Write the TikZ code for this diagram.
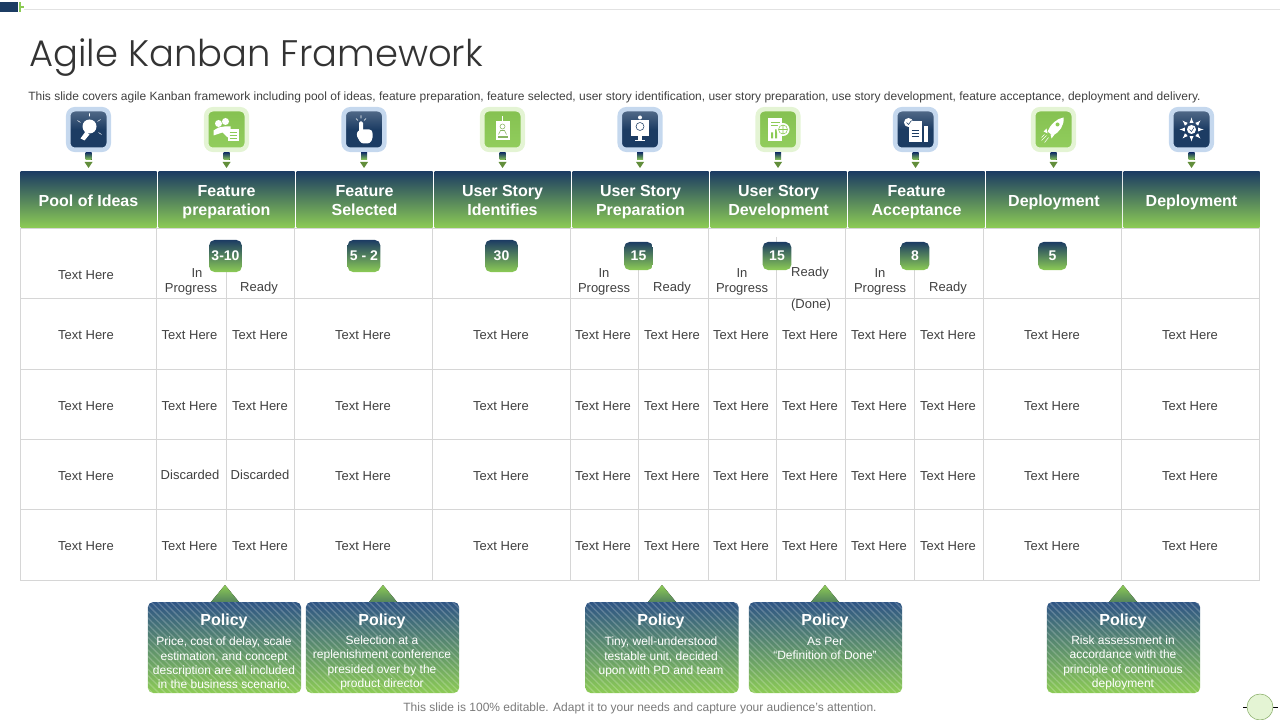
\documentclass[tikz,border=0pt]{standalone}
\usepackage{fontspec}
\setmainfont{Liberation Sans}
\newfontfamily\titlefont{Poppins}[UprightFont=* Light]
\usetikzlibrary{patterns.meta}
\definecolor{navy}{HTML}{1C3C63}
\definecolor{leaf}{HTML}{8CCB55}
\definecolor{policyblue}{HTML}{2F5585}
\definecolor{bluehalo}{HTML}{C5D8EE}
\definecolor{greenhalo}{HTML}{E4F4D4}
\definecolor{gridgray}{HTML}{D6D6D6}
\definecolor{ink}{HTML}{404040}
\newcommand{\headtop}{\rule{0pt}{14.5pt}}
\tikzset{
    head/.style={minimum width=102pt, minimum height=42pt, inner sep=0pt, top color=navy, bottom color=leaf, text=white, align=center, font=\fontsize{12}{14.25}\selectfont\bfseries},
    badge/.style={rounded corners=4pt, inner sep=0pt, top color=navy, bottom color=leaf, text=white, font=\fontsize{10.5}{12}\selectfont\bfseries},
    bigbadge/.style={badge, minimum width=24.5pt, minimum height=24pt},
    smallbadge/.style={badge, minimum width=21.5pt, minimum height=21pt},
    cell/.style={inner sep=0pt, yshift=-0.75pt, text=ink, align=center, font=\fontsize{9.75}{12}\selectfont},
    iconblue/.style={minimum size=30.4pt, inner sep=0pt, rounded corners=5pt, draw=bluehalo, line width=3.4pt, top color=navy!75!white, bottom color=navy, middle color=navy},
    icongreen/.style={minimum size=30.4pt, inner sep=0pt, rounded corners=5pt, draw=greenhalo, line width=3.4pt, top color=leaf!95!black, bottom color=leaf!95!white},
    policybox/.style={minimum width=115pt, minimum height=68.25pt, inner sep=0pt, rounded corners=4pt, top color=policyblue, bottom color=leaf, postaction={pattern={Lines[angle=-45, distance=3.4pt, line width=1pt]}, pattern color=white, opacity=0.2}},
    policytip/.style={top color=leaf, bottom color=navy!50!leaf},
    policyhead/.style={inner sep=0pt, text=white, font=\fontsize{12}{14}\selectfont\bfseries},
    policytext/.style={inner sep=0pt, text=white, align=center, font=\fontsize{9}{10.7}\selectfont},
    marker/.pic={
        \fill[top color=navy, bottom color=leaf] (-3,-15) rectangle (3,-8);
        \fill[leaf!70!black] (-4,-6) -- (4,-6) -- (0,0) -- cycle;
    },
}

\begin{document}
\begin{tikzpicture}[x=0.75pt, y=-0.75pt]
    \useasboundingbox (0,0) rectangle (1280,720);
    \draw[gridgray!70] (24,9.5) -- (1280,9.5);
    \fill[navy] (0,2) rectangle (18,12);
    \fill[leaf] (19,2) rectangle (21,12);
    \fill[leaf] (21,6.5) rectangle (24,8);

    \node[anchor=west, inner sep=0pt, text=ink!80!black, font=\fontsize{27.7}{33}\selectfont\titlefont] (title) at (29,58) {Agile Kanban Framework};
    \node[anchor=west, inner sep=0pt, text=ink, font=\fontsize{9}{11}\selectfont] (subtitle) at (28,97) {This slide covers agile Kanban framework including pool of ideas, feature preparation, feature selected, user story identification, user story preparation, use story development, feature acceptance, deployment and delivery.};

    \node[iconblue] (icon1) at (88.5,129.5) {};
    \node[icongreen] (icon2) at (226.5,129.5) {};
    \node[iconblue] (icon3) at (364,129.5) {};
    \node[icongreen] (icon4) at (502.5,129.5) {};
    \node[iconblue] (icon5) at (640,129.5) {};
    \node[icongreen] (icon6) at (778,129.5) {};
    \node[iconblue] (icon7) at (915.5,129.5) {};
    \node[icongreen] (icon8) at (1053.5,129.5) {};
    \node[iconblue] (icon9) at (1191.5,129.5) {};

    \begin{scope}[shift={(88.5,129.5)}]
        \fill[white] (1,-3) circle (7);
        \fill[white] (-8,9) -- (-3,2) -- (1,5) -- (-4,11) -- cycle;
        \draw[white] (-8,-7) -- (-11,-9) (1,-13) -- (1,-16) (9,-8) -- (12,-10) (10,3) -- (13,5);
    \end{scope}
    \begin{scope}[shift={(226.5,129.5)}]
        \fill[white] (-8,-6) circle (3.5) (-1,-8) circle (3.5);
        \fill[white] (-13,6) -- (-13,1) -- (-8,-2) -- (-2,-3) -- (4,-3) -- (4,1) -- (1,8) -- (-4,3) -- cycle;
        \fill[white] (1,0) rectangle (12,12);
        \draw[leaf] (3,3) -- (10,3) (3,6) -- (10,6) (3,9) -- (10,9);
    \end{scope}
    \begin{scope}[shift={(364,129.5)}]
        \fill[white, rounded corners=1pt] (-5,-8) rectangle (-1,4);
        \fill[white, rounded corners=2pt] (-5,0) -- (8,0) -- (9,8) -- (6,14) -- (-3,14) -- (-8,5) -- cycle;
        \draw[white] (-8,-11) -- (-6,-9) (-3,-14) -- (-3,-11) (2,-11) -- (0,-9);
    \end{scope}
    \begin{scope}[shift={(502.5,129.5)}]
        \fill[white] (-7,-8) rectangle (7,11);
        \draw[white] (0,-8) -- (0,-13);
        \draw[leaf!70!gray] (0,-3) circle (2.5) (-4,5) -- (-2,1) -- (2,1) -- (4,5);
        \fill[leaf!70!gray] (-5,7) rectangle (5,9);
    \end{scope}
    \begin{scope}[shift={(640,129.5)}]
        \fill[white] (-9,-9) rectangle (9,7);
        \fill[white] (-2,7) rectangle (2,11);
        \fill[white] (-5,11) rectangle (5,12);
        \draw[navy] (0,-3) circle (4);
        \fill[white] (0,-12) circle (2);
    \end{scope}
    \begin{scope}[shift={(778,129.5)}]
        \fill[white] (-10,-11) rectangle (4,12);
        \draw[leaf] (-7,-7) -- (2,-7) (-7,-4) -- (1,-4);
        \fill[leaf] (-7,3) rectangle (-5,9) (-3,0) rectangle (-1,9);
        \fill[white] (5,0) circle (6.5);
        \draw[leaf] (5,0) circle (4.5) (5,-4.5) -- (5,4.5) (0.5,0) -- (9.5,0);
    \end{scope}
    \begin{scope}[shift={(915.5,129.5)}]
        \fill[white] (-7,-8) rectangle (6,13);
        \fill[white] (8,-3) rectangle (12,13);
        \draw[navy] (-4,1) -- (3,1) (-4,4) -- (3,4) (-4,7) -- (3,7);
        \fill[white] (-7,-7) circle (4.5);
        \draw[navy] (-9,-7) -- (-7,-5) -- (-4,-9);
    \end{scope}
    \begin{scope}[shift={(1053.5,129.5)}]
        \fill[white] (10,-12) .. controls (3,-11) and (-3,-5) .. (-6,2) -- (-1,6) .. controls (6,3) and (11,-4) .. (10,-12) -- cycle;
        \fill[white] (-7,-1) -- (-10,2) -- (-6,4) -- cycle (1,5) -- (-2,9) -- (-3,5) -- cycle;
        \draw[white] (-7,6) -- (-12,11) (-5,8) -- (-9,13) (-9,5) -- (-12,8);
        \fill[leaf] (4,-5) circle (2);
    \end{scope}
    \begin{scope}[shift={(1191.5,129.5)}]
        \fill[white] (0,0) circle (4.5);
        \draw[navy] (-2,0) -- (0,2) -- (2.5,-2);
        \draw[white, -latex] (7,0) -- (12,0);
        \draw[white, -latex] (-7,0) -- (-12,0);
        \draw[white, -latex] (0,7) -- (0,12);
        \draw[white, -latex] (0,-7) -- (0,-12);
        \draw[white, -latex] (5,5) -- (9,9);
        \draw[white, -latex] (-5,5) -- (-9,9);
        \draw[white, -latex] (5,-5) -- (9,-9);
        \draw[white, -latex] (-5,-5) -- (-9,-9);
    \end{scope}

    \pic at (88.5,168) {marker};
    \pic at (226.5,168) {marker};
    \pic at (364,168) {marker};
    \pic at (502.5,168) {marker};
    \pic at (640,168) {marker};
    \pic at (778,168) {marker};
    \pic at (915.5,168) {marker};
    \pic at (1053.5,168) {marker};
    \pic at (1191.5,168) {marker};

    \draw[gridgray] (20,228) rectangle (1259.5,580);
    \draw[gridgray] (20,298.5) -- (1259.5,298.5);
    \draw[gridgray] (20,369.5) -- (1259.5,369.5);
    \draw[gridgray] (20,439.5) -- (1259.5,439.5);
    \draw[gridgray] (20,509.5) -- (1259.5,509.5);
    \draw[gridgray] (156.5,228) -- (156.5,580);
    \draw[gridgray] (294.5,228) -- (294.5,580);
    \draw[gridgray] (432.5,228) -- (432.5,580);
    \draw[gridgray] (570.5,228) -- (570.5,580);
    \draw[gridgray] (708.5,228) -- (708.5,580);
    \draw[gridgray] (845.5,228) -- (845.5,580);
    \draw[gridgray] (983.5,228) -- (983.5,580);
    \draw[gridgray] (1121.5,228) -- (1121.5,580);
    \draw[gridgray] (226.5,270) -- (226.5,580);
    \draw[gridgray] (638.5,270) -- (638.5,580);
    \draw[gridgray] (776.5,237) -- (776.5,580);
    \draw[gridgray] (914.5,270) -- (914.5,580);

    \node[head] (head1) at (88.5,199.5) {\headtop Pool of Ideas\strut};
    \node[head] (head2) at (226.5,199.5) {\headtop Feature\\preparation\strut};
    \node[head] (head3) at (364.5,199.5) {\headtop Feature\\Selected\strut};
    \node[head] (head4) at (502.5,199.5) {\headtop User Story\\Identifies\strut};
    \node[head] (head5) at (640.5,199.5) {\headtop User Story\\Preparation\strut};
    \node[head] (head6) at (778.5,199.5) {\headtop User Story\\Development\strut};
    \node[head] (head7) at (916.5,199.5) {\headtop Feature\\Acceptance\strut};
    \node[head] (head8) at (1054,199.5) {\headtop Deployment\strut};
    \node[head] (head9) at (1191.5,199.5) {\headtop Deployment\strut};

    \node[bigbadge] (badge2) at (225.5,256) {3-10};
    \node[bigbadge] (badge3) at (364,256) {5 - 2};
    \node[bigbadge] (badge4) at (501.5,256) {30};
    \node[smallbadge] (badge5) at (638.5,256) {15};
    \node[smallbadge] (badge6) at (777,256) {15};
    \node[smallbadge] (badge7) at (915,256) {8};
    \node[smallbadge] (badge8) at (1052.5,256) {5};

    \node[cell] (c11) at (86,274) {Text Here};
    \node[cell] (c21) at (197,272) {In};
    \node[cell] (c22) at (191,288) {Progress};
    \node[cell] (c23) at (259,287) {Ready};
    \node[cell] (c51) at (604,272) {In};
    \node[cell] (c52) at (604,288) {Progress};
    \node[cell] (c53) at (672,287) {Ready};
    \node[cell] (c61) at (742,272) {In};
    \node[cell] (c62) at (742,288) {Progress};
    \node[cell] (c63) at (810,272) {Ready};
    \node[cell] (c64) at (811,304) {(Done)};
    \node[cell] (c71) at (880,272) {In};
    \node[cell] (c72) at (880,288) {Progress};
    \node[cell] (c73) at (948,287) {Ready};

    \node[cell] (a1) at (86,334) {Text Here};
    \node[cell] (a2) at (189.5,334) {Text Here};
    \node[cell] (a3) at (260,334) {Text Here};
    \node[cell] (a4) at (363,334) {Text Here};
    \node[cell] (a5) at (501,334) {Text Here};
    \node[cell] (a6) at (603,334) {Text Here};
    \node[cell] (a7) at (672,334) {Text Here};
    \node[cell] (a8) at (741,334) {Text Here};
    \node[cell] (a9) at (810,334) {Text Here};
    \node[cell] (a10) at (879,334) {Text Here};
    \node[cell] (a11) at (948,334) {Text Here};
    \node[cell] (a12) at (1052,334) {Text Here};
    \node[cell] (a13) at (1190,334) {Text Here};

    \node[cell] (b1) at (86,405) {Text Here};
    \node[cell] (b2) at (189.5,405) {Text Here};
    \node[cell] (b3) at (260,405) {Text Here};
    \node[cell] (b4) at (363,405) {Text Here};
    \node[cell] (b5) at (501,405) {Text Here};
    \node[cell] (b6) at (603,405) {Text Here};
    \node[cell] (b7) at (672,405) {Text Here};
    \node[cell] (b8) at (741,405) {Text Here};
    \node[cell] (b9) at (810,405) {Text Here};
    \node[cell] (b10) at (879,405) {Text Here};
    \node[cell] (b11) at (948,405) {Text Here};
    \node[cell] (b12) at (1052,405) {Text Here};
    \node[cell] (b13) at (1190,405) {Text Here};

    \node[cell] (d1) at (86,475) {Text Here};
    \node[cell] (d2) at (190,474) {Discarded};
    \node[cell] (d3) at (260,474) {Discarded};
    \node[cell] (d4) at (363,475) {Text Here};
    \node[cell] (d5) at (501,475) {Text Here};
    \node[cell] (d6) at (603,475) {Text Here};
    \node[cell] (d7) at (672,475) {Text Here};
    \node[cell] (d8) at (741,475) {Text Here};
    \node[cell] (d9) at (810,475) {Text Here};
    \node[cell] (d10) at (879,475) {Text Here};
    \node[cell] (d11) at (948,475) {Text Here};
    \node[cell] (d12) at (1052,475) {Text Here};
    \node[cell] (d13) at (1190,475) {Text Here};

    \node[cell] (e1) at (86,545) {Text Here};
    \node[cell] (e2) at (189.5,545) {Text Here};
    \node[cell] (e3) at (260,545) {Text Here};
    \node[cell] (e4) at (363,545) {Text Here};
    \node[cell] (e5) at (501,545) {Text Here};
    \node[cell] (e6) at (603,545) {Text Here};
    \node[cell] (e7) at (672,545) {Text Here};
    \node[cell] (e8) at (741,545) {Text Here};
    \node[cell] (e9) at (810,545) {Text Here};
    \node[cell] (e10) at (879,545) {Text Here};
    \node[cell] (e11) at (948,545) {Text Here};
    \node[cell] (e12) at (1052,545) {Text Here};
    \node[cell] (e13) at (1190,545) {Text Here};

    \fill[policytip] (211,602) -- (225,585) -- (239,602) -- cycle;
    \fill[policytip] (369,602) -- (383,585) -- (397,602) -- cycle;
    \fill[policytip] (648,602) -- (662,585) -- (676,602) -- cycle;
    \fill[policytip] (811,602) -- (825,585) -- (839,602) -- cycle;
    \fill[policytip] (1109,602) -- (1123,585) -- (1137,602) -- cycle;

    \node[policybox] (box1) at (224.5,647.5) {};
    \node[policybox] (box2) at (382.5,647.5) {};
    \node[policybox] (box3) at (662,647.5) {};
    \node[policybox] (box4) at (825.5,647.5) {};
    \node[policybox] (box5) at (1123.5,647.5) {};

    \node[policyhead] (policy1) at (224,621) {Policy};
    \node[policyhead] (policy2) at (382,621) {Policy};
    \node[policyhead] (policy3) at (661,621) {Policy};
    \node[policyhead] (policy4) at (825,621) {Policy};
    \node[policyhead] (policy5) at (1123,621) {Policy};

    \node[policytext] (text1) at (224,663) {Price, cost of delay, scale\\estimation, and concept\\description are all included\\in the business scenario.};
    \node[policytext] (text2) at (382,663) {Selection at a\\replenishment conference\\presided over by the\\product director};
    \node[policytext, anchor=north] (text3) at (661,637) {Tiny, well-understood\\testable unit, decided\\upon with PD and team};
    \node[policytext, anchor=north] (text4) at (825,637) {As Per\\``Definition of Done''};
    \node[policytext] (text5) at (1123,663) {Risk assessment in\\accordance with the\\principle of continuous\\deployment};

    \node[inner sep=0pt, text=ink!70!white, font=\fontsize{9}{11}\selectfont] (footer) at (640,708) {This slide is 100\% editable. Adapt it to your needs and capture your audience's attention.};

    \draw (1243,707) -- (1278,707);
    \draw[fill=greenhalo, draw=leaf!60!gray] (1260,707) circle (13);
\end{tikzpicture}
\end{document}
